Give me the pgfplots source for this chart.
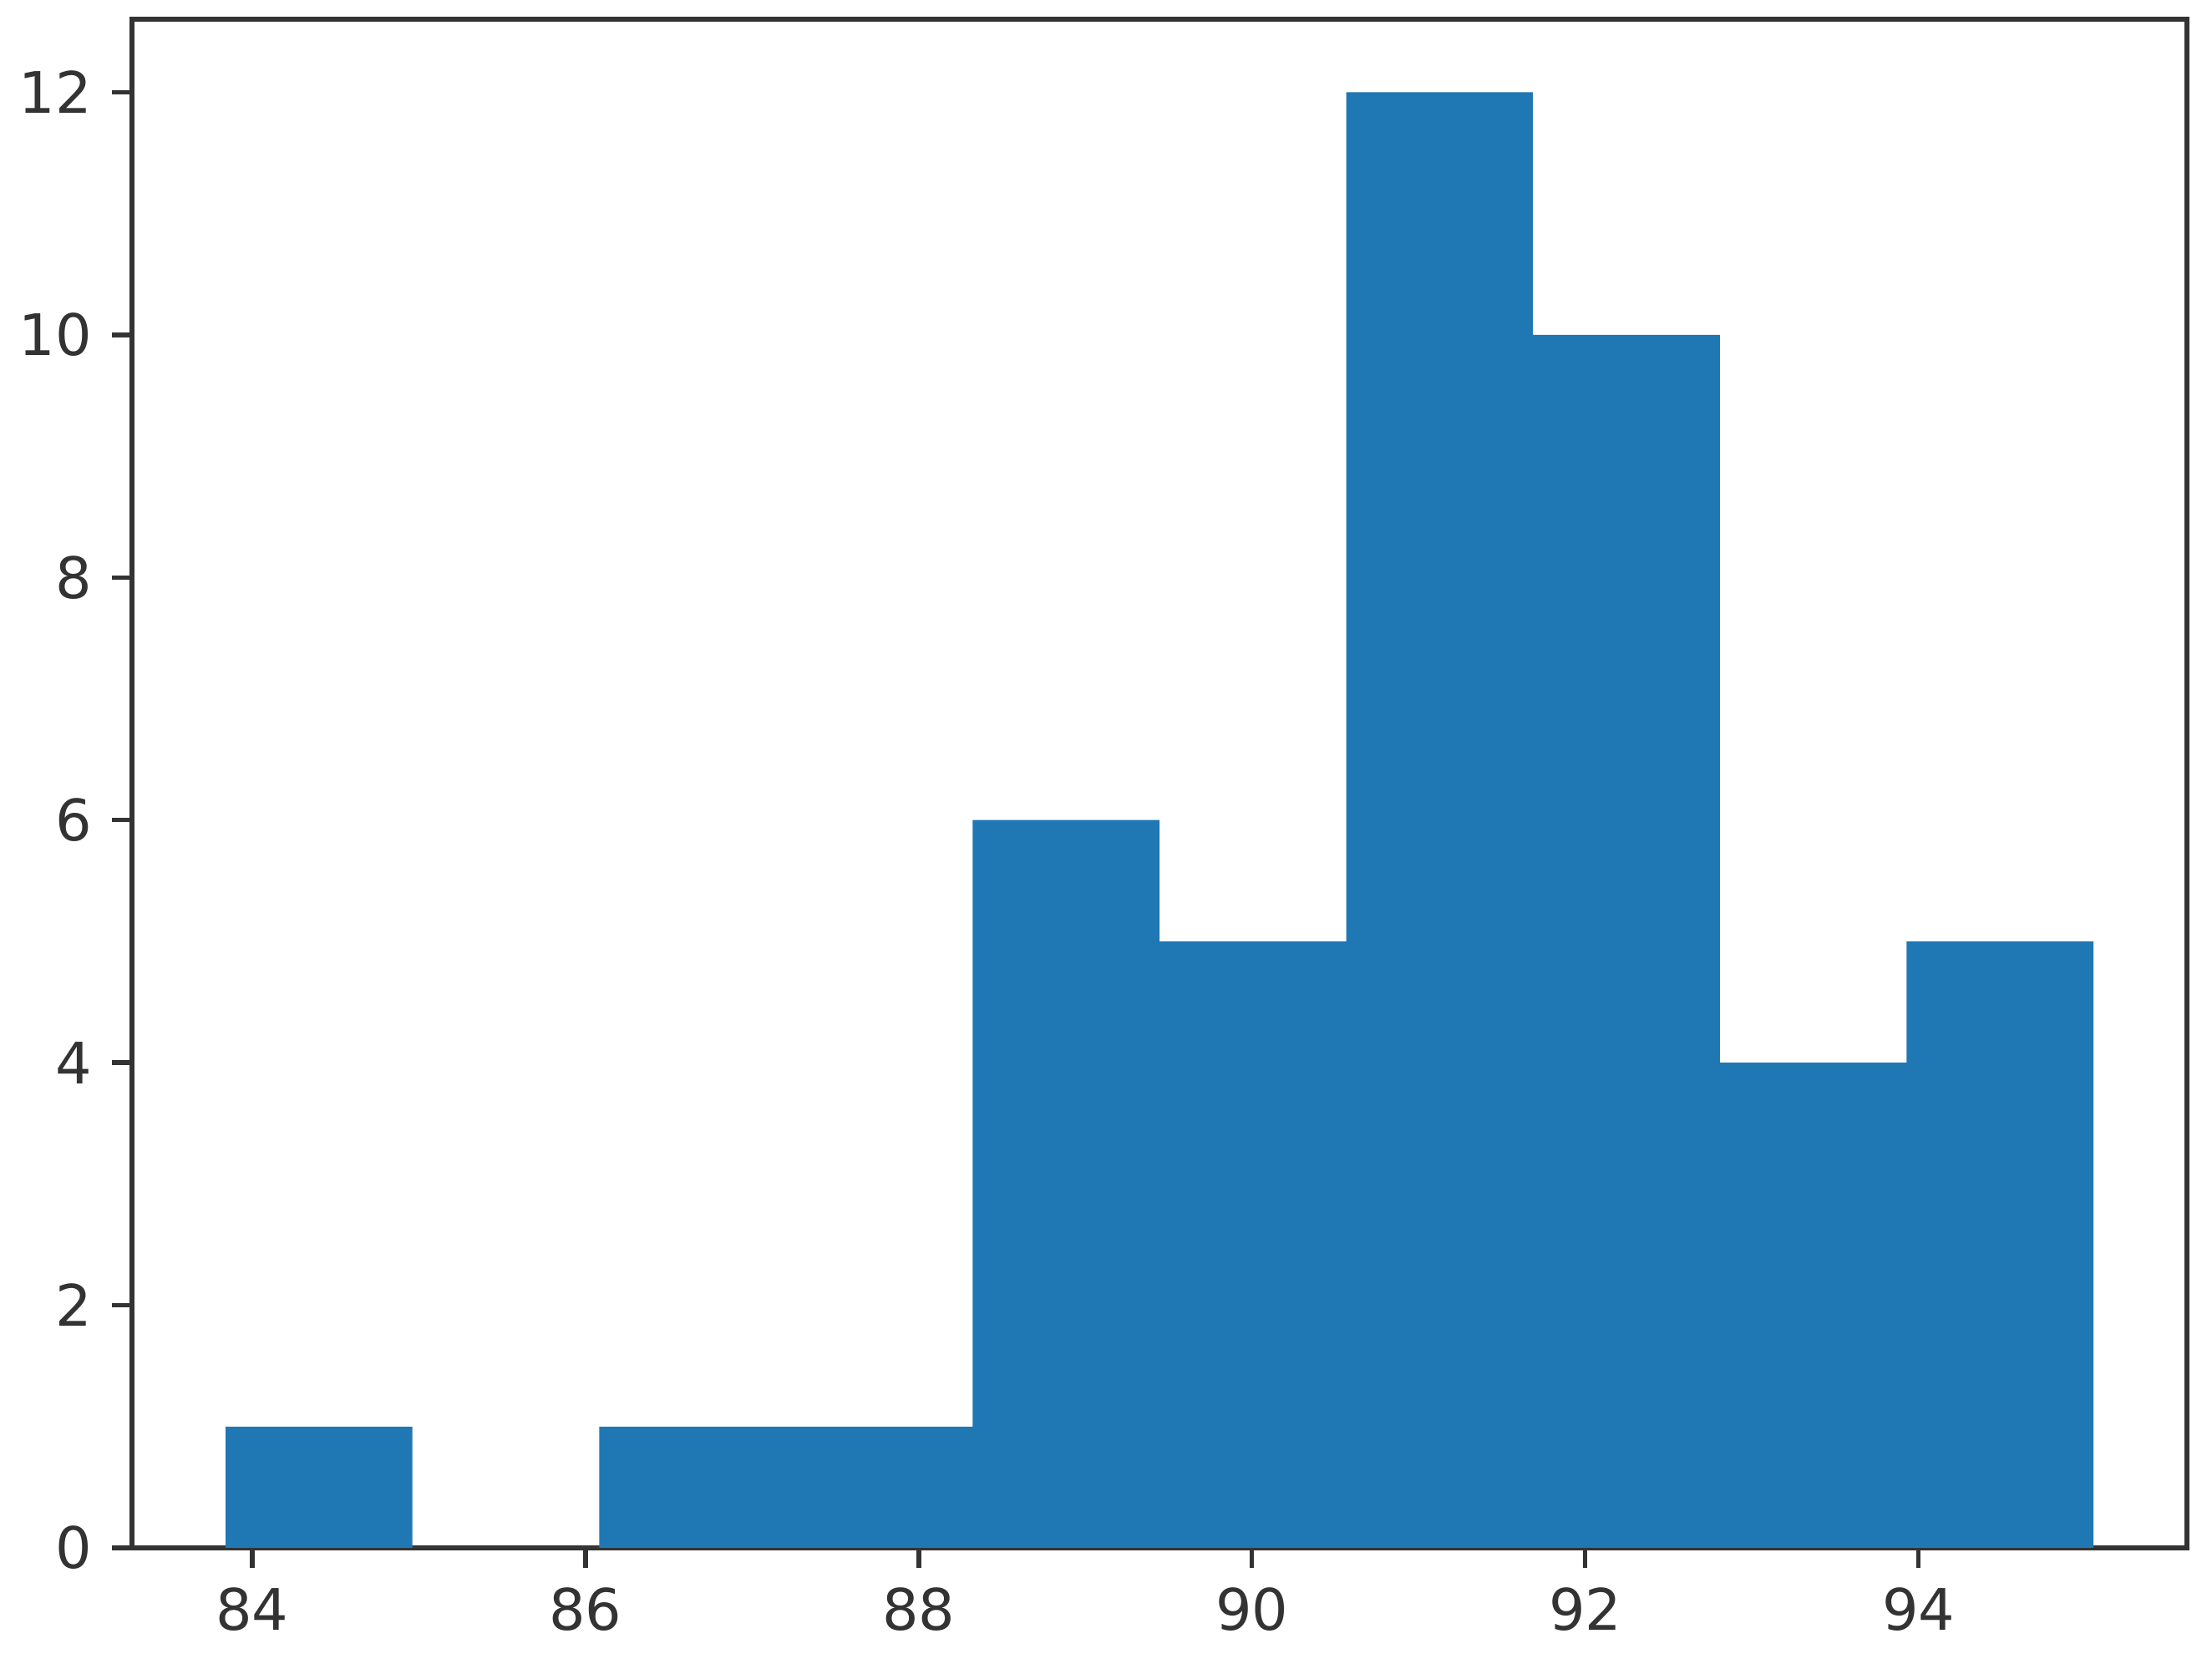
\documentclass[border=0pt]{standalone}
\usepackage{fontspec}
\setmainfont{DejaVu Sans}
\usepackage{pgfplots}
\pgfplotsset{compat=1.18}
\definecolor{mplblue}{HTML}{1F77B4}
\definecolor{spine}{HTML}{333333}
\begin{document}
\begin{tikzpicture}
\begin{axis}[
  scale only axis,
  width=359.2pt, height=267.2pt,
  xmin=83.279, xmax=95.611,
  ymin=0, ymax=12.6,
  xtick={84,86,...,94},
  ytick={0,2,...,12},
  tick align=outside,
  tick pos=left,
  major tick length=3.5pt,
  tick style={spine, line width=0.8pt},
  axis line style={spine, line width=0.8pt},
  ticklabel style={font=\fontsize{10}{12}\selectfont, text=spine},
  /pgf/number format/assume math mode=true,
]
\addplot[ybar interval, fill=mplblue, draw=none] coordinates {
  (83.840,1) (84.961,0) (86.082,1) (87.203,1) (88.324,6)
  (89.445,5) (90.566,12) (91.687,10) (92.808,4) (93.929,5) (95.050,5)
};
\end{axis}
\useasboundingbox ([shift={(-23.1pt,-20.3pt)}]current axis.south west) rectangle ([shift={(4.4pt,3.4pt)}]current axis.north east);
\end{tikzpicture}
\end{document}
